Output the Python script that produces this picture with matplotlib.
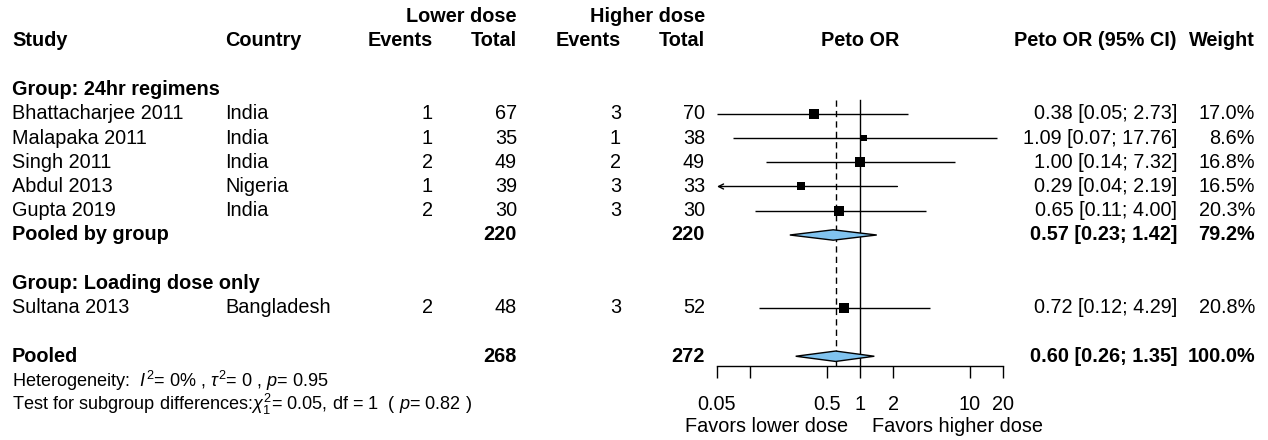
import matplotlib
matplotlib.use('Agg')

import numpy as np
import matplotlib.pyplot as plt
from matplotlib.patches import Polygon
from matplotlib.ticker import NullLocator

plt.rcParams['font.family'] = ['Liberation Sans', 'DejaVu Sans']
plt.rcParams['mathtext.fontset'] = 'custom'
plt.rcParams['mathtext.rm'] = 'Liberation Sans'
plt.rcParams['mathtext.it'] = 'Liberation Sans:italic'
plt.rcParams['mathtext.bf'] = 'Liberation Sans:bold'

# study level data
studies = ['Bhattacharjee 2011', 'Malapaka 2011', 'Singh 2011', 'Abdul 2013', 'Gupta 2019', 'Sultana 2013']
countries = ['India', 'India', 'India', 'Nigeria', 'India', 'Bangladesh']
groups = ['24hr regimens'] * 5 + ['Loading dose only']
ev_low = [1, 1, 2, 1, 2, 2]
n_low = [67, 35, 49, 39, 30, 48]
ev_high = [3, 1, 2, 3, 3, 3]
n_high = [70, 38, 49, 33, 30, 52]
or_est = [0.38, 1.09, 1.00, 0.29, 0.65, 0.72]
ci_lo = [0.05, 0.07, 0.14, 0.04, 0.11, 0.12]
ci_hi = [2.73, 17.76, 7.32, 2.19, 4.00, 4.29]
weights = [17.0, 8.6, 16.8, 16.5, 20.3, 20.8]

# pooled estimates (group 24hr, overall)
grp_est, grp_lo, grp_hi, grp_w = 0.57, 0.23, 1.42, 79.2
pool_est, pool_lo, pool_hi = 0.60, 0.26, 1.35

ticks = [0.05, 0.1, 0.5, 1, 2, 10, 20]
tick_labels = ['0.05', '', '0.5', '1', '2', '10', '20']

FS = 14.3
FS_SMALL = 13.1
W, H = 1268, 440
x_lo, x_hi = 0.05, 20
ax_left, ax_right, ax_y = 717, 1003, 366

fig = plt.figure(figsize=(W / 100, H / 100), dpi=100)
tx = fig.add_axes([0, 0, 1, 1])
tx.set_xlim(0, W)
tx.set_ylim(H, 0)
tx.axis('off')

fx = fig.add_axes([ax_left / W, (H - ax_y) / H, (ax_right - ax_left) / W, ax_y / H])
fx.set_xscale('log')
fx.set_xlim(x_lo, x_hi)
fx.set_ylim(ax_y, 0)
fx.patch.set_alpha(0)
for s in ['top', 'left', 'right']:
  fx.spines[s].set_visible(False)
fx.spines['bottom'].set_linewidth(1.0)
fx.set_yticks([])
fx.set_xticks(ticks)
fx.set_xticklabels(tick_labels)
fx.xaxis.set_minor_locator(NullLocator())
fx.tick_params(axis='x', direction='out', length=8.6, width=1.0, pad=12.5, labelsize=FS)


def txt(x, y, s, ha='left', bold=False, size=FS):
  tx.text(x, y, s, ha=ha, va='center', fontsize=size, fontweight='bold' if bold else 'normal')


# columns
c_study, c_country, c_ev1, c_n1, c_ev2, c_n2 = 12, 225, 433, 517, 621, 705
c_ci, c_w = 1177, 1255
c_mid = 860

y0, step = 41, 24.25
row = lambda k: y0 + step * k

# header
txt(c_n1, row(-1), 'Lower dose', 'right', True)
txt(c_n2, row(-1), 'Higher dose', 'right', True)
txt(c_study, row(0), 'Study', bold=True)
txt(c_country, row(0), 'Country', bold=True)
txt(c_ev1, row(0), 'Events', 'right', True)
txt(c_n1, row(0), 'Total', 'right', True)
txt(c_ev2, row(0), 'Events', 'right', True)
txt(c_n2, row(0), 'Total', 'right', True)
txt(c_mid, row(0), 'Peto OR', 'center', True)
txt(c_ci, row(0), 'Peto OR (95% CI)', 'right', True)
txt(c_w, row(0), 'Weight', 'right', True)


def study_row(i, y):
  txt(c_study, y, studies[i])
  txt(c_country, y, countries[i])
  txt(c_ev1, y, str(ev_low[i]), 'right')
  txt(c_n1, y, str(n_low[i]), 'right')
  txt(c_ev2, y, str(ev_high[i]), 'right')
  txt(c_n2, y, str(n_high[i]), 'right')
  txt(c_ci, y, f'{or_est[i]:.2f} [{ci_lo[i]:.2f}; {ci_hi[i]:.2f}]', 'right')
  txt(c_w, y, f'{weights[i]:.1f}%', 'right')
  lo = max(ci_lo[i], x_lo)
  hi = min(ci_hi[i], x_hi)
  if ci_lo[i] < x_lo:
    fx.annotate('', xy=(lo, y), xytext=(hi, y),
                arrowprops=dict(arrowstyle='->', lw=1.0, color='black', shrinkA=0, shrinkB=0,
                                mutation_scale=9), annotation_clip=False)
  else:
    fx.plot([lo, hi], [y, y], color='black', lw=1.0, solid_capstyle='butt')
  side = 2.2 * np.sqrt(weights[i]) * 0.72
  fx.scatter([or_est[i]], [y], marker='s', s=side ** 2, color='black', zorder=4, linewidths=0)


def diamond(est, lo, hi, y, h=5.2):
  fx.add_patch(Polygon([(lo, y), (est, y - h), (hi, y), (est, y + h)], closed=True,
                       facecolor='#80C3EF', edgecolor='black', lw=1.0, zorder=5))


# group 1
g1 = [i for i, g in enumerate(groups) if g == '24hr regimens']
g2 = [i for i, g in enumerate(groups) if g == 'Loading dose only']
txt(c_study, row(2), 'Group: 24hr regimens', bold=True)
for k, i in enumerate(g1):
  study_row(i, row(3 + k))
yg = row(3 + len(g1))
txt(c_study, yg, 'Pooled by group', bold=True)
txt(c_n1, yg, str(sum(n_low[i] for i in g1)), 'right', True)
txt(c_n2, yg, str(sum(n_high[i] for i in g1)), 'right', True)
txt(c_ci, yg, f'{grp_est:.2f} [{grp_lo:.2f}; {grp_hi:.2f}]', 'right', True)
txt(c_w, yg, f'{grp_w:.1f}%', 'right', True)
diamond(grp_est, grp_lo, grp_hi, yg)

# group 2
txt(c_study, row(10), 'Group: Loading dose only', bold=True)
for k, i in enumerate(g2):
  study_row(i, row(11 + k))

# overall
yp = row(13)
txt(c_study, yp, 'Pooled', bold=True)
txt(c_n1, yp, str(sum(n_low)), 'right', True)
txt(c_n2, yp, str(sum(n_high)), 'right', True)
txt(c_ci, yp, f'{pool_est:.2f} [{pool_lo:.2f}; {pool_hi:.2f}]', 'right', True)
txt(c_w, yp, f'{sum(weights):.1f}%', 'right', True)
diamond(pool_est, pool_lo, pool_hi, yp)

# reference lines
y_top = row(3) - 14
fx.plot([1, 1], [y_top, ax_y], color='black', lw=1.0)
fx.plot([pool_est, pool_est], [y_top, ax_y], color='black', lw=1.0, linestyle=(0, (4.5, 3)))

# footer
txt(c_study, row(14), 'Heterogeneity:  $\\mathit{I}^2$= 0% , $\\tau^2$= 0 , $\\mathit{p}$= 0.95', size=FS_SMALL)
txt(c_study, row(15), 'Test for subgroup differences:$\\chi^2_1$= 0.05, df = 1  ( $\\mathit{p}$= 0.82 )', size=FS_SMALL)
txt(c_mid - 12, 427, 'Favors lower dose', 'right')
txt(c_mid + 12, 427, 'Favors higher dose', 'left')

fig.savefig('out.png', dpi=100)
